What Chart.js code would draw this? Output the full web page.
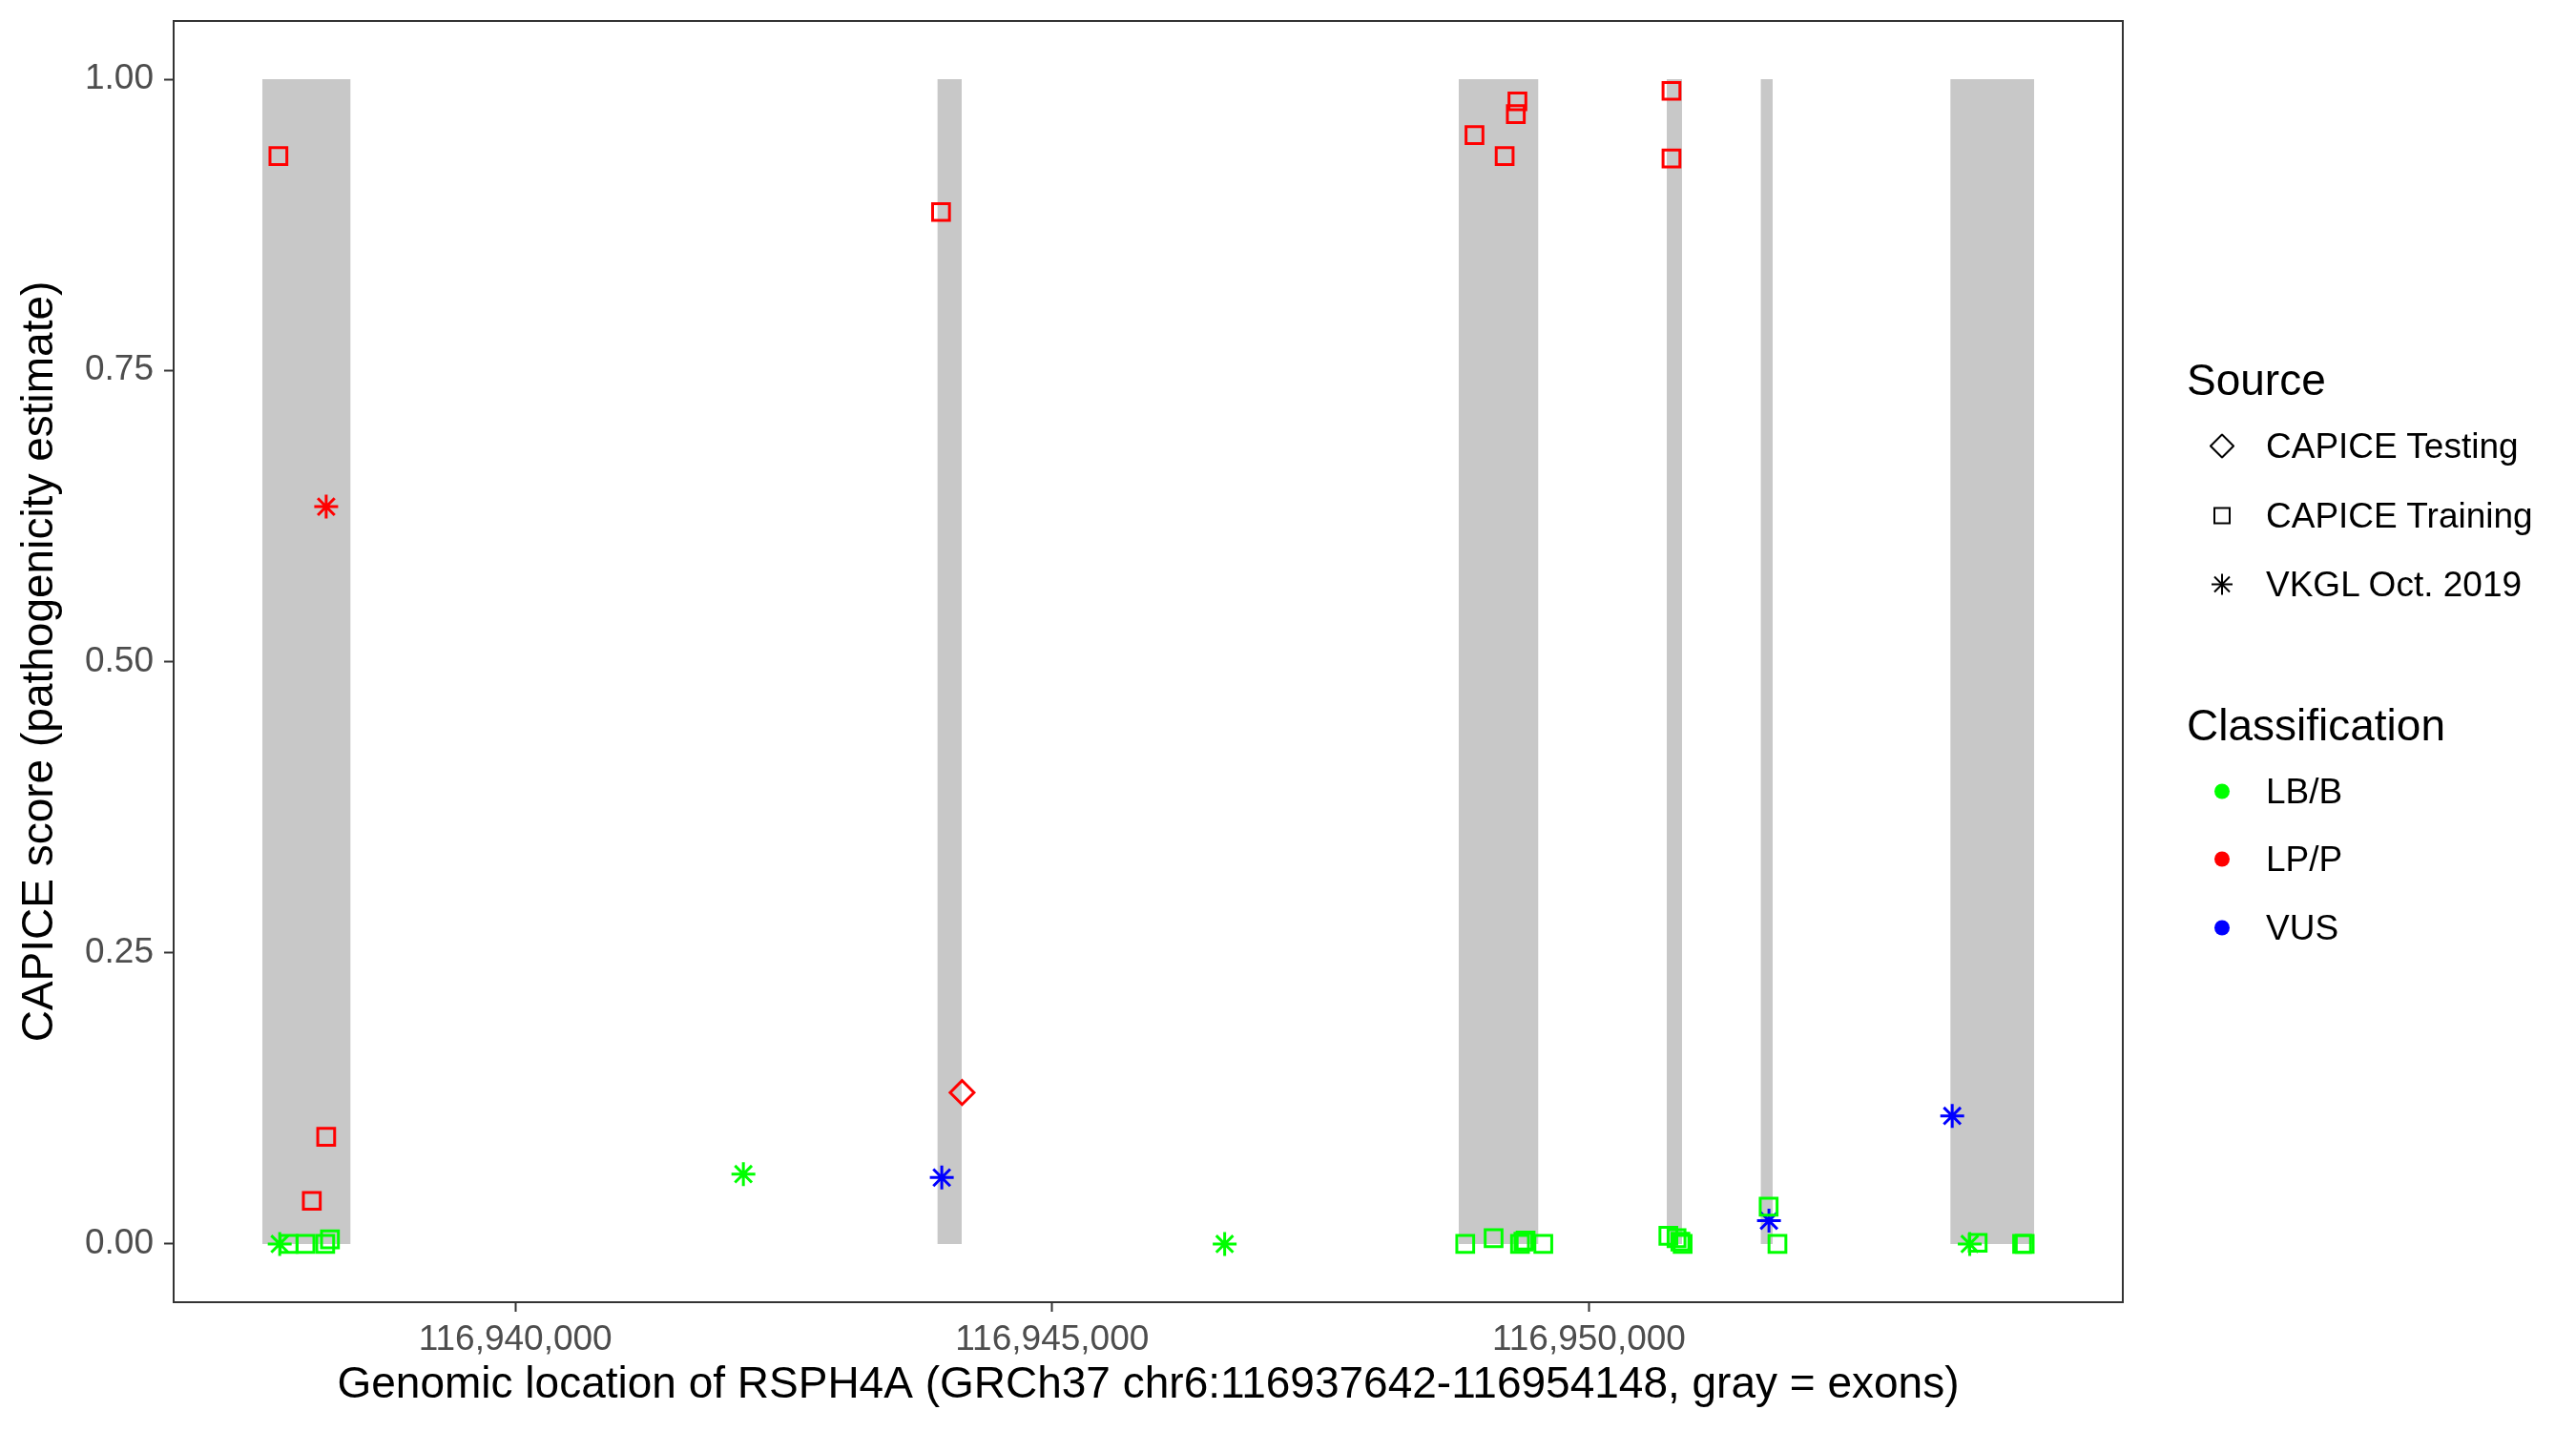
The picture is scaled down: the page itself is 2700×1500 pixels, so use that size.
<!DOCTYPE html>
<html>
<head>
<meta charset="utf-8">
<script src="https://cdn.jsdelivr.net/npm/chart.js@4.4.1/dist/chart.umd.min.js"></script>
<style>
body { margin: 0; background: #fff; }
#wrap { position: relative; width: 2700px; height: 1500px; font-family: "Liberation Sans", Arial, sans-serif; }
.lg { position: absolute; left: 2292px; transform: translateY(-50%); white-space: nowrap; display: flex; align-items: center; line-height: 1; color: #000; }
.lgt { font-size: 46px; }
.lgi { font-size: 37px; left: 2316px; }
.lgi svg { margin-right: 33px; }
</style>
</head>
<body>
<div id="wrap">
  <canvas id="grafico" width="2700" height="1500"></canvas>
</div>
<script>
// exones (gris)
const exonStart = [116937642, 116943930, 116948786, 116950725, 116951599, 116953366];
const exonEnd   = [116938466, 116944158, 116949530, 116950867, 116951712, 116954148];

// CAPICE Training
const trainBenignX = [116937888, 116938045, 116938229, 116938273, 116948848, 116949112, 116949358, 116949390, 116949410, 116949575, 116950740, 116950816, 116950852, 116950873, 116951674, 116951756, 116953621, 116954035, 116954059];
const trainBenignY = [0, 0, 0, 0.004, 0, 0.005, 0, 0.002, 0.003, 0, 0.007, 0.005, 0.002, 0, 0.032, 0, 0.001, 0, 0];
const trainPathoX = [116937793, 116938104, 116938238, 116943965, 116948934, 116949215, 116949319, 116949334, 116950769, 116950769];
const trainPathoY = [0.934, 0.037, 0.092, 0.886, 0.952, 0.934, 0.970, 0.981, 0.990, 0.932];

// CAPICE Testing
const testPathoX = [116944161];
const testPathoY = [0.130];

// VKGL Oct. 2019
const vkglBenignX = [116937805, 116942124, 116946607, 116953547];
const vkglBenignY = [0, 0.060, 0, 0];
const vkglPathoX = [116938238];
const vkglPathoY = [0.633];
const vkglVusX = [116943972, 116951677, 116953384];
const vkglVusY = [0.057, 0.020, 0.110];

const xTicks = [116940000, 116945000, 116950000];
const yTicks = [0, 0.25, 0.5, 0.75, 1];

const sourceLabels = ['CAPICE Testing', 'CAPICE Training', 'VKGL Oct. 2019'];
const sourceShapes = ['rectRot', 'rect', 'star'];
const classLabels = ['LB/B', 'LP/P', 'VUS'];
const classColors = ['#00ff00', '#ff0000', '#0000ff'];

const xTitle = 'Genomic location of RSPH4A (GRCh37 chr6:116937642-116954148, gray = exons)';
const yTitle = 'CAPICE score (pathogenicity estimate)';

function puntos(xs, ys, shape, color) {
    return {
        type: 'scatter',
        data: xs.map((x, i) => ({x: x, y: ys[i]})),
        pointStyle: shape,
        pointRadius: 12.5,
        pointHoverRadius: 12.5,
        borderWidth: 3,
        borderColor: color,
        backgroundColor: 'rgba(0,0,0,0)',
        order: 0
    };
}

const datasets = [];
for (let i = 0; i < exonStart.length; i++) {
    datasets.push({
        type: 'line',
        data: [{x: exonStart[i], y: 0}, {x: exonStart[i], y: 1}, {x: exonEnd[i], y: 1}, {x: exonEnd[i], y: 0}],
        fill: 'origin',
        backgroundColor: '#c8c8c8',
        borderWidth: 0,
        pointRadius: 0,
        tension: 0,
        order: 10
    });
}
datasets.push(puntos(trainBenignX, trainBenignY, 'rect', classColors[0]));
datasets.push(puntos(trainPathoX, trainPathoY, 'rect', classColors[1]));
datasets.push(puntos(testPathoX, testPathoY, 'rectRot', classColors[1]));
datasets.push(puntos(vkglBenignX, vkglBenignY, 'star', classColors[0]));
datasets.push(puntos(vkglPathoX, vkglPathoY, 'star', classColors[1]));
datasets.push(puntos(vkglVusX, vkglVusY, 'star', classColors[2]));

const marco = {
    id: 'marco',
    afterDraw(chart) {
        const {ctx, chartArea: a} = chart;
        ctx.save();
        ctx.strokeStyle = '#333333';
        ctx.lineWidth = 2;
        ctx.strokeRect(a.left, a.top, a.right - a.left, a.bottom - a.top);
        ctx.restore();
    }
};

Chart.defaults.font.family = "'Liberation Sans', Arial, sans-serif";

const chart = new Chart(document.getElementById('grafico'), {
    type: 'scatter',
    data: {datasets: datasets},
    options: {
        responsive: false,
        animation: false,
        devicePixelRatio: 1,
        layout: {padding: {left: 0, top: 22, right: 475, bottom: 0}},
        plugins: {legend: {display: false}, tooltip: {enabled: false}},
        scales: {
            x: {
                type: 'linear',
                min: 116936817,
                max: 116954973,
                afterFit: (s) => { s.height = 135; s.paddingLeft = 0; s.paddingRight = 0; },
                afterBuildTicks: (s) => { s.ticks = xTicks.map(v => ({value: v})); },
                grid: {drawOnChartArea: false, drawTicks: true, tickLength: 10, tickWidth: 2, tickColor: '#333333'},
                border: {display: false},
                ticks: {
                    autoSkip: false, maxRotation: 0, padding: 8,
                    color: '#4d4d4d', font: {size: 37},
                    callback: (v) => v.toLocaleString('en-US')
                },
                title: {display: true, text: xTitle, color: '#000', font: {size: 46}, padding: {top: 0, bottom: 20}}
            },
            y: {
                type: 'linear',
                min: -0.05,
                max: 1.05,
                afterFit: (s) => { s.width = 182; s.paddingTop = 0; s.paddingBottom = 0; },
                afterBuildTicks: (s) => { s.ticks = yTicks.map(v => ({value: v})); },
                grid: {drawOnChartArea: false, drawTicks: true, tickLength: 10, tickWidth: 2, tickColor: '#333333'},
                border: {display: false},
                ticks: {
                    padding: 11, color: '#4d4d4d', font: {size: 37},
                    callback: (v) => Number(v).toFixed(2)
                },
                title: {display: true, text: yTitle, color: '#000', font: {size: 46}, padding: {top: 15, bottom: 0}}
            }
        }
    },
    plugins: [marco]
});

// leyenda
function simbolo(shape, color) {
    const c = color || '#000';
    if (shape === 'rectRot') return `<svg width="26" height="26"><polygon points="13,1 25,13 13,25 1,13" fill="none" stroke="${c}" stroke-width="2"/></svg>`;
    if (shape === 'rect') return `<svg width="26" height="26"><rect x="5" y="5" width="16" height="16" fill="none" stroke="${c}" stroke-width="2"/></svg>`;
    if (shape === 'star') return `<svg width="26" height="26" stroke="${c}" stroke-width="2"><line x1="13" y1="2" x2="13" y2="24"/><line x1="2" y1="13" x2="24" y2="13"/><line x1="5" y1="5" x2="21" y2="21"/><line x1="21" y1="5" x2="5" y2="21"/></svg>`;
    return `<svg width="26" height="26"><circle cx="13" cy="13" r="8" fill="${c}"/></svg>`;
}

const wrap = document.getElementById('wrap');
let html = '';
html += `<div class="lg lgt" style="top:398px">Source</div>`;
const srcY = [467, 540, 612];
for (let i = 0; i < sourceLabels.length; i++) {
    html += `<div class="lg lgi" style="top:${srcY[i]}px">${simbolo(sourceShapes[i])}${sourceLabels[i]}</div>`;
}
html += `<div class="lg lgt" style="top:760px">Classification</div>`;
const clsY = [829, 900, 972];
for (let i = 0; i < classLabels.length; i++) {
    html += `<div class="lg lgi" style="top:${clsY[i]}px">${simbolo('circle', classColors[i])}${classLabels[i]}</div>`;
}
wrap.insertAdjacentHTML('beforeend', html);
</script>
</body>
</html>
